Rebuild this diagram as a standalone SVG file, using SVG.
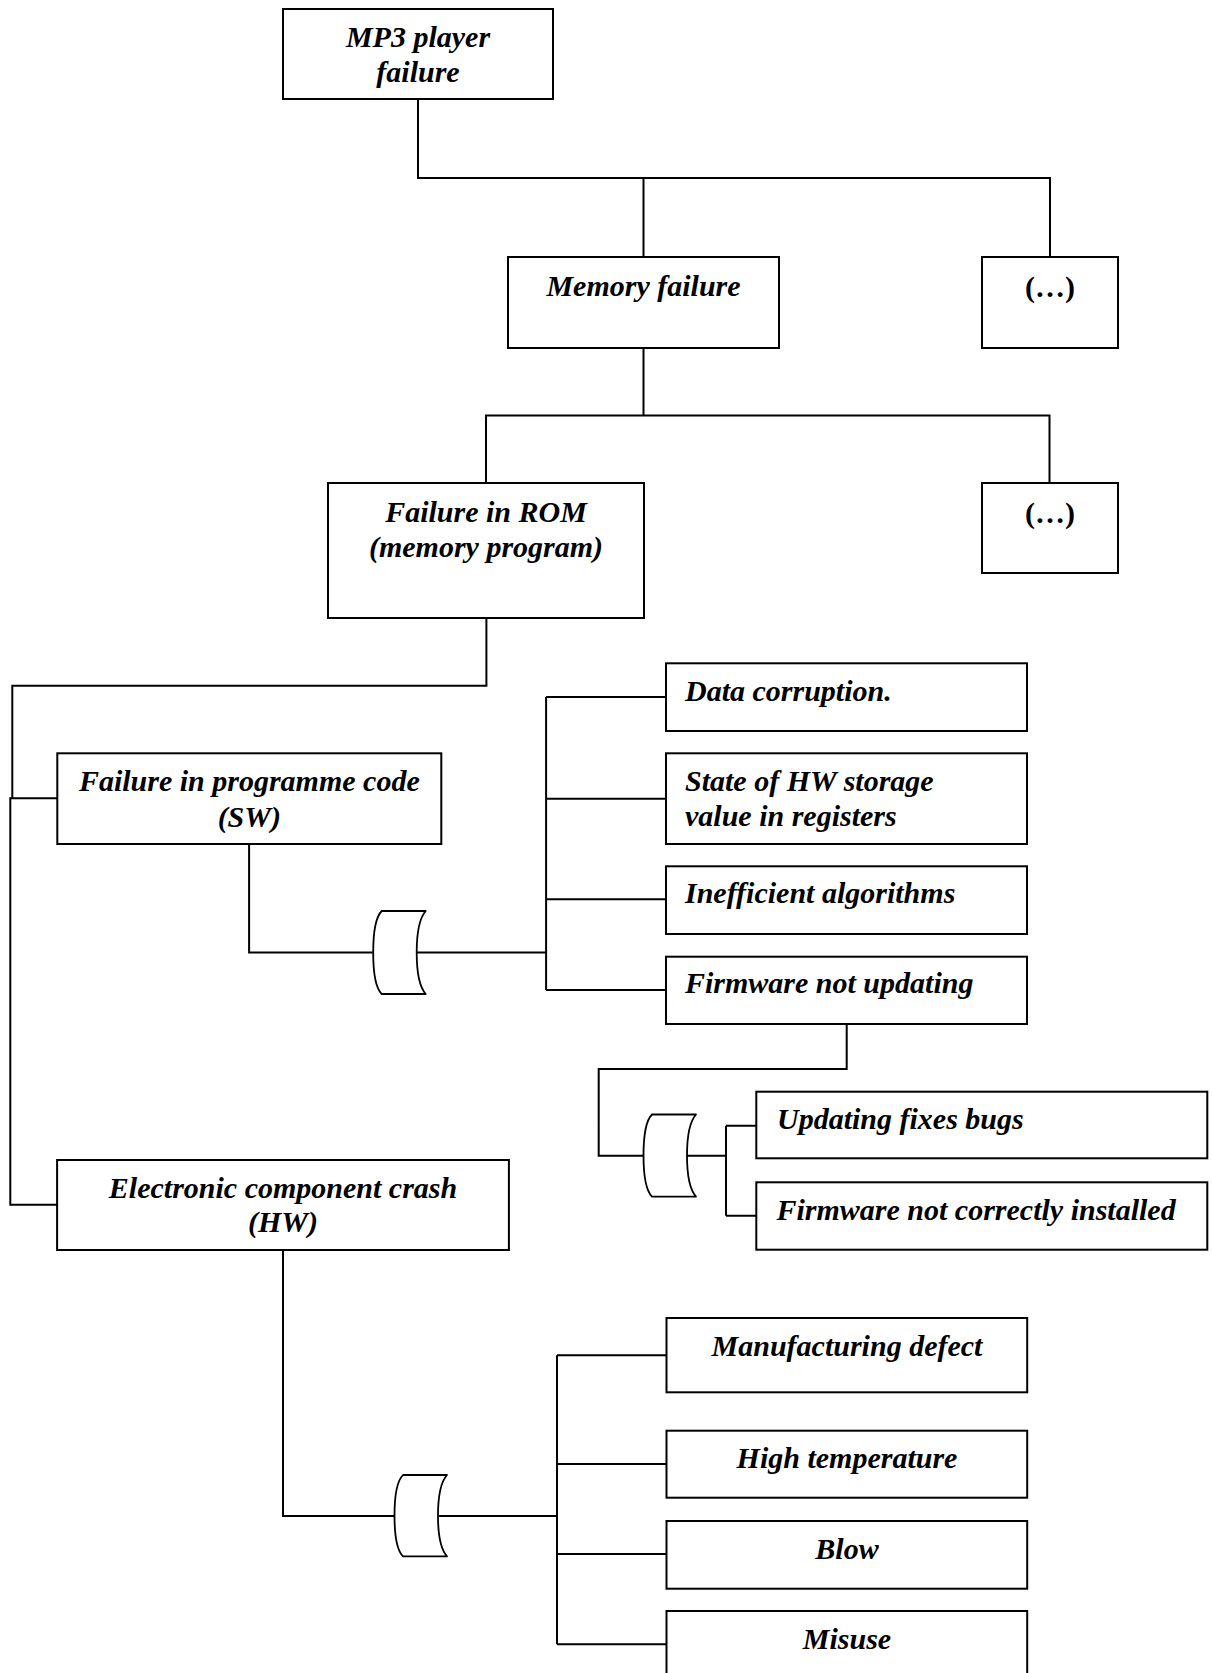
<svg xmlns="http://www.w3.org/2000/svg" xmlns:xlink="http://www.w3.org/1999/xlink" width="1212" height="1673" viewBox="0 0 1212 1673">
  <style>
    .box { fill: #ffffff; stroke: #000000; stroke-width: 2; }
    .wire { fill: none; stroke: #000000; stroke-width: 2; }
    .gate { fill: #ffffff; stroke: #000000; stroke-width: 1.8; stroke-linejoin: round; }
    text { font-family: "Liberation Serif", "Times New Roman", serif; font-size: 30px; font-weight: bold; font-style: italic; fill: #000000; }
    .c { text-anchor: middle; }
    .up { font-style: normal; }
  </style>
  <defs>
    <!-- OR gate, origin at the top-left corner -->
    <path id="orGate" class="gate" d="M0,0 H44 C37,8 35,22 35,41.5 C35,61 37,75 44,83 H0 C-6,77 -8.5,65 -8.5,41.5 C-8.5,18 -6,6 0,0 Z"/>
  </defs>
  <rect width="1212" height="1673" fill="#ffffff"/>

  <g id="connectors">
    <path class="wire" d="M418,99 V178 H1050 V257 M643.5,178 V257"/>
    <path class="wire" d="M486,483 V415.5 H1049.5 V483 M643.5,348 V415.5"/>
    <path class="wire" d="M486.4,618 V685.7 H12.3 V798.3 M57.3,798.3 H10.3 V1204.7 H57.1"/>
    <path class="wire" d="M249.1,844 V952.5 H372.7 M416.7,952.5 H546.1 M546.1,697 V990 M546.1,697 H666 M546.1,798.7 H666 M546.1,899.3 H666 M546.1,990 H666"/>
    <path class="wire" d="M846.7,1024 V1069 H598.7 V1155.7 H644.4 M686.8,1155.7 H726 M726,1125.7 V1215.7 M726,1125.7 H756.3 M726,1215.7 H756.3"/>
    <path class="wire" d="M283,1250 V1516 H395.8 M439.1,1516 H557 M557,1355.3 V1644.3 M557,1355.3 H666.5 M557,1464 H666.5 M557,1554 H666.5 M557,1644.3 H666.5"/>
  </g>

  <g id="gates">
    <use xlink:href="#orGate" transform="translate(381.7,911)"/>
    <use xlink:href="#orGate" transform="translate(652,1114.5) scale(1,0.99)"/>
    <use xlink:href="#orGate" transform="translate(403,1475) scale(1,0.98)"/>
  </g>

  <g id="n-mp3">
    <rect class="box" x="283" y="9" width="270" height="90"/>
    <text class="c" x="418" y="47">MP3 player</text>
    <text class="c" x="418" y="82">failure</text>
  </g>
  <g id="n-memory">
    <rect class="box" x="508" y="257" width="271" height="91"/>
    <text class="c" x="643.5" y="295.5">Memory failure</text>
  </g>
  <g id="n-other1">
    <rect class="box" x="982" y="257" width="136" height="91"/>
    <text class="c up" x="1050" y="297">(…)</text>
  </g>
  <g id="n-rom">
    <rect class="box" x="328" y="483" width="316" height="135"/>
    <text class="c" x="486" y="521.5">Failure in ROM</text>
    <text class="c" x="486" y="556.5">(memory program)</text>
  </g>
  <g id="n-other2">
    <rect class="box" x="982" y="483" width="136" height="90"/>
    <text class="c up" x="1050" y="522.5">(…)</text>
  </g>
  <g id="n-sw">
    <rect class="box" x="57.3" y="753.3" width="384" height="90.7"/>
    <text class="c" x="249.3" y="790.5">Failure in programme code</text>
    <text class="c" x="249.3" y="826.5">(SW)</text>
  </g>
  <g id="n-hw">
    <rect class="box" x="57.1" y="1160" width="451.8" height="90"/>
    <text class="c" x="283" y="1198">Electronic component crash</text>
    <text class="c" x="283" y="1232">(HW)</text>
  </g>
  <g id="n-data">
    <rect class="box" x="666" y="663.3" width="361" height="67.7"/>
    <text x="685" y="701">Data corruption.</text>
  </g>
  <g id="n-state">
    <rect class="box" x="666" y="753.3" width="361" height="90.7"/>
    <text x="685" y="790.5">State of HW storage</text>
    <text x="685" y="825.5">value in registers</text>
  </g>
  <g id="n-algo">
    <rect class="box" x="666" y="866.3" width="361" height="67.7"/>
    <text x="685" y="903">Inefficient algorithms</text>
  </g>
  <g id="n-firmware">
    <rect class="box" x="666" y="956.7" width="361" height="67.3"/>
    <text x="685" y="993">Firmware not updating</text>
  </g>
  <g id="n-updating">
    <rect class="box" x="756.3" y="1091.7" width="451" height="66.6"/>
    <text x="777" y="1128.5">Updating fixes bugs</text>
  </g>
  <g id="n-install">
    <rect class="box" x="756.3" y="1182.3" width="451" height="67.4"/>
    <text x="776.5" y="1219.5">Firmware not correctly installed</text>
  </g>
  <g id="n-manufacturing">
    <rect class="box" x="666.5" y="1318" width="360.7" height="74.3"/>
    <text class="c" x="847" y="1355.5">Manufacturing defect</text>
  </g>
  <g id="n-temperature">
    <rect class="box" x="666.5" y="1430.7" width="360.7" height="67"/>
    <text class="c" x="847" y="1468">High temperature</text>
  </g>
  <g id="n-blow">
    <rect class="box" x="666.5" y="1521" width="360.7" height="67.7"/>
    <text class="c" x="847" y="1558.5">Blow</text>
  </g>
  <g id="n-misuse">
    <rect class="box" x="666.5" y="1611" width="360.7" height="75"/>
    <text class="c" x="847" y="1648.5">Misuse</text>
  </g>
</svg>
